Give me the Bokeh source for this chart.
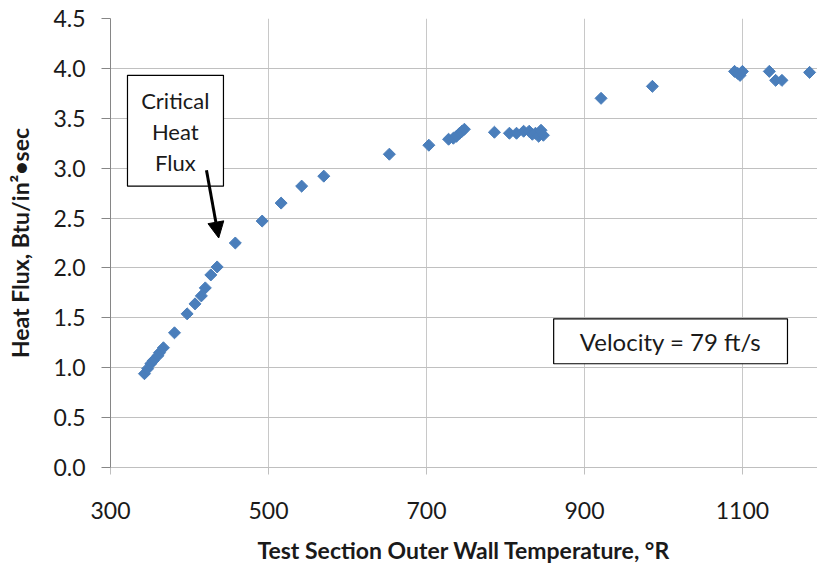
from bokeh.plotting import figure
from bokeh.models import Range1d, BoxAnnotation, Label, Arrow, NormalHead, FixedTicker, CustomJSTickFormatter
from bokeh.embed import file_html
from bokeh.resources import INLINE

# Data
temperature = [343, 347, 351, 354, 360, 362, 367, 381, 397, 407, 415, 420, 427, 435,
               458, 492, 516, 542, 570, 653, 703, 728, 734, 738, 742, 745, 748,
               786, 805, 814, 823, 830, 834, 838, 842, 845, 848,
               921, 986, 1090, 1094, 1097, 1100, 1134, 1142, 1150, 1185]
heat_flux = [0.94, 0.99, 1.04, 1.07, 1.12, 1.15, 1.20, 1.35, 1.54, 1.64, 1.72, 1.80, 1.93, 2.01,
             2.25, 2.47, 2.65, 2.82, 2.92, 3.14, 3.23, 3.29, 3.30, 3.32, 3.35, 3.37, 3.39,
             3.36, 3.35, 3.35, 3.37, 3.37, 3.34, 3.35, 3.32, 3.38, 3.33,
             3.70, 3.82, 3.97, 3.95, 3.93, 3.97, 3.97, 3.88, 3.88, 3.96]
x_ticks = [300, 500, 700, 900, 1100]
y_ticks = [0.0, 0.5, 1.0, 1.5, 2.0, 2.5, 3.0, 3.5, 4.0, 4.5]

FONT = "Lato"

p = figure(width=817, height=569, output_backend="svg", toolbar_location=None,
           x_range=Range1d(300, 1195), y_range=Range1d(0, 4.5),
           min_border_left=110, min_border_right=0, min_border_top=18, min_border_bottom=102)
p.outline_line_color = None
p.background_fill_color = "white"
p.border_fill_color = "white"

p.scatter(temperature, heat_flux, marker="square", angle=0.785398, size=8.5,
          color="#4a7ebb")

# Axes
p.xaxis.ticker = FixedTicker(ticks=x_ticks)
p.yaxis.ticker = FixedTicker(ticks=y_ticks)
p.yaxis.formatter = CustomJSTickFormatter(code="return tick.toFixed(1);")

for ax in (p.xaxis, p.yaxis):
    ax.axis_line_color = "#868686"
    ax.major_tick_line_color = "#868686"
    ax.minor_tick_line_color = None
    ax.major_tick_in = 0
    ax.major_label_text_font = FONT
    ax.major_label_text_font_size = "23px"
    ax.major_label_text_color = "#1a1a1a"
    ax.axis_label_text_font = FONT
    ax.axis_label_text_font_size = "23px"
    ax.axis_label_text_font_style = "bold"
    ax.axis_label_text_color = "#1a1a1a"

p.xaxis.axis_line_color = "#bfbfbf"
p.xaxis.major_tick_out = 7
p.xaxis.major_tick_line_color = "#bfbfbf"
p.xaxis.major_label_standoff = 27
p.xaxis.axis_label = "Test Section Outer Wall Temperature, °R"
p.xaxis.axis_label_standoff = 14

p.yaxis.major_tick_out = 9
p.yaxis.major_label_standoff = 16
p.yaxis.axis_label = "Heat Flux, Btu/in²•sec"
p.yaxis.axis_label_standoff = 16

p.xgrid.grid_line_color = "#c8c8c8"
p.ygrid.grid_line_color = "#c0c0c0"
p.xgrid.ticker = FixedTicker(ticks=x_ticks)
p.ygrid.ticker = FixedTicker(ticks=y_ticks)

# Annotations
p.add_layout(BoxAnnotation(left=321.5, right=443, bottom=2.82, top=3.93,
                           fill_color="white", fill_alpha=1.0,
                           line_color="black", line_alpha=1.0, line_width=1.2, level="overlay"))
for txt, yy in (("Critical", 3.68), ("Heat", 3.37), ("Flux", 3.06)):
    p.add_layout(Label(x=382, y=yy, text=txt, text_align="center", text_baseline="middle",
                       text_font=FONT, text_font_size="22px", text_color="#1a1a1a", level="overlay"))
p.add_layout(Arrow(end=NormalHead(size=16, fill_color="black", line_color="black"),
                   x_start=421.5, y_start=2.98, x_end=437, y_end=2.30,
                   line_color="black", line_width=3, level="overlay"))

p.add_layout(BoxAnnotation(left=861, right=1157, bottom=1.04, top=1.49,
                           fill_color="white", fill_alpha=1.0,
                           line_color="black", line_alpha=1.0, line_width=1.2, level="overlay"))
p.add_layout(Label(x=1009, y=1.265, text="Velocity = 79 ft/s", text_align="center",
                   text_baseline="middle", text_font=FONT, text_font_size="24px",
                   text_color="#1a1a1a", level="overlay"))

open("out.html", "w").write(file_html(p, INLINE))
